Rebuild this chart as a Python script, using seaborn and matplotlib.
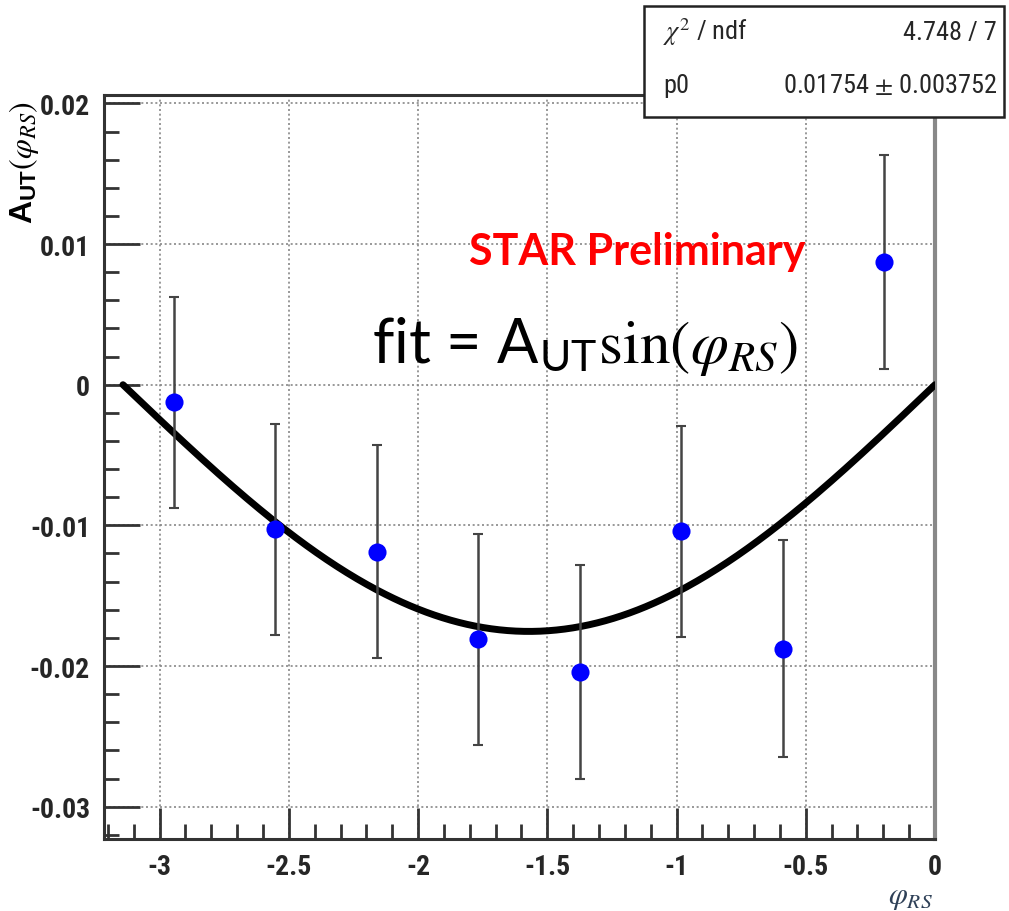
import numpy as np
import pandas as pd
import seaborn as sns
import matplotlib
matplotlib.use("Agg")
import matplotlib.pyplot as plt
from matplotlib import font_manager as fm
from matplotlib.ticker import MultipleLocator, FixedLocator, FixedFormatter
from matplotlib.patches import Rectangle

# ---- data ----
phi_rs = [-2.945, -2.553, -2.160, -1.767, -1.374, -0.982, -0.589, -0.196]
a_ut = [-0.00126, -0.01026, -0.01186, -0.01811, -0.02043, -0.01043, -0.01876, 0.00874]
a_ut_err = [0.0075, 0.0075, 0.0076, 0.0075, 0.0076, 0.0075, 0.0077, 0.0076]
fit_p0 = 0.01754
fit_p0_err = 0.003752
chi2_text = "4.748 / 7"
x_ticks = [-3, -2.5, -2, -1.5, -1, -0.5, 0]
x_tick_labels = ["-3", "-2.5", "-2", "-1.5", "-1", "-0.5", "0"]
y_ticks = [-0.03, -0.02, -0.01, 0, 0.01, 0.02]
y_tick_labels = ["-0.03", "-0.02", "-0.01", "0", "0.01", "0.02"]

sns.set_theme(style="white")

installed = {f.name for f in fm.fontManager.ttflist}
narrow = None
for cand in ["Liberation Sans Narrow", "Roboto Condensed", "Open Sans Condensed",
             "Arial Narrow", "Nimbus Sans Narrow"]:
    if cand in installed:
        narrow = cand
        break
base_family = [narrow] if narrow else []
base_family += ["Liberation Sans", "DejaVu Sans"]
plt.rcParams["font.family"] = base_family
plt.rcParams["axes.unicode_minus"] = False
plt.rcParams["mathtext.fontset"] = "custom"
plt.rcParams["mathtext.rm"] = "STIXGeneral"
plt.rcParams["mathtext.sf"] = "Lato"
plt.rcParams["mathtext.it"] = "STIXGeneral:italic"
plt.rcParams["mathtext.bf"] = "Liberation Sans:bold"

tick_size = 20 if narrow else 18.5

W, H = 1009, 912
fig = plt.figure(figsize=(W / 100, H / 100), dpi=100)
fig.patch.set_facecolor("white")
ax = fig.add_axes([104 / W, 1 - 840 / H, (935 - 104) / W, (840 - 96) / H])

df = pd.DataFrame({"phi": phi_rs, "A": a_ut, "err": a_ut_err})
ax.set_axisbelow(True)

# fit curve from the fitted parameter
xf = np.linspace(-np.pi, 0, 400)
fit_df = pd.DataFrame({"phi": xf, "A": fit_p0 * np.sin(xf)})
sns.lineplot(data=fit_df, x="phi", y="A", ax=ax, color="black", lw=5, zorder=3)

ax.errorbar(df["phi"], df["A"], yerr=df["err"], fmt="none", ecolor="#444444",
            elinewidth=1.8, capsize=3.5, capthick=1.5, zorder=4)
sns.scatterplot(data=df, x="phi", y="A", ax=ax, color="#0000ff", s=170,
                edgecolor="#0000ff", linewidth=0, zorder=5)

ax.set_xlim(-3.215, 0.0)
ax.set_ylim(-0.0323, 0.0206)
ax.xaxis.set_major_locator(FixedLocator(x_ticks))
ax.xaxis.set_major_formatter(FixedFormatter(x_tick_labels))
ax.yaxis.set_major_locator(FixedLocator(y_ticks))
ax.yaxis.set_major_formatter(FixedFormatter(y_tick_labels))
ax.xaxis.set_minor_locator(MultipleLocator(0.1))
ax.yaxis.set_minor_locator(MultipleLocator(0.002))
ax.tick_params(axis="both", which="major", direction="in", length=22, width=2,
               color="#333333", labelsize=tick_size, pad=10)
ax.tick_params(axis="both", which="minor", direction="in", length=11, width=2,
               color="#333333")
ax.tick_params(axis="x", which="both", bottom=True, top=False)
ax.tick_params(axis="y", which="both", left=True, right=False)
ax.tick_params(axis="y", which="major", length=26, pad=10)
for lab in ax.get_xticklabels() + ax.get_yticklabels():
    lab.set_fontweight("bold")
ax.grid(True, which="major", linestyle=(0, (1.2, 1.6)), color="#888888", lw=1.2)
for s in ax.spines.values():
    s.set_visible(True)
    s.set_color("#333333")
    s.set_linewidth(2.2)
ax.spines["right"].set_color("#888888")
ax.spines["right"].set_linewidth(3)
ax.set_xlabel("")
ax.set_ylabel("")

# axis titles
fig.text(24 / W, 1 - 101 / H, r"$\mathbf{A}_{\mathbf{UT}}(\varphi_{RS})$", rotation=90,
         ha="center", va="top", fontsize=23, color="black")
fig.text(933 / W, 1 - 904 / H, r"$\varphi_{RS}$", ha="right", va="baseline",
         fontsize=22, color="#2e4057")

# annotations
ax.text(805 / W, 1 - 265 / H, "STAR Preliminary", transform=fig.transFigure,
        ha="right", va="baseline", color="#ff0000", fontsize=31,
        fontweight="bold", family=["Lato", "DejaVu Sans"])
ax.text(798 / W, 1 - 363 / H, r"fit = A$_{\mathsf{UT}}\mathrm{sin}(\varphi_{RS})$",
        transform=fig.transFigure, ha="right", va="baseline", color="black",
        fontsize=44, family=["Lato", "DejaVu Sans"])

# stats box
box = Rectangle((644 / W, 1 - 118 / H), (1004 - 644) / W, (118 - 7) / H,
                transform=fig.transFigure, facecolor="white", edgecolor="#222222",
                lw=1.8, zorder=10)
fig.patches.append(box)
fs_box = 19 if narrow else 17.5
fig.text(663 / W, 1 - 40 / H, r"$\chi^{2}$ / ndf", ha="left", va="baseline",
         fontsize=fs_box, zorder=11)
fig.text(997 / W, 1 - 40 / H, chi2_text, ha="right", va="baseline",
         fontsize=fs_box, zorder=11)
fig.text(663 / W, 1 - 93 / H, "p0", ha="left", va="baseline", fontsize=fs_box, zorder=11)
fig.text(997 / W, 1 - 93 / H, f"{fit_p0:.5f} $\\pm$ {fit_p0_err:.6f}", ha="right",
         va="baseline", fontsize=fs_box, zorder=11)

fig.savefig("out.png", dpi=100)
